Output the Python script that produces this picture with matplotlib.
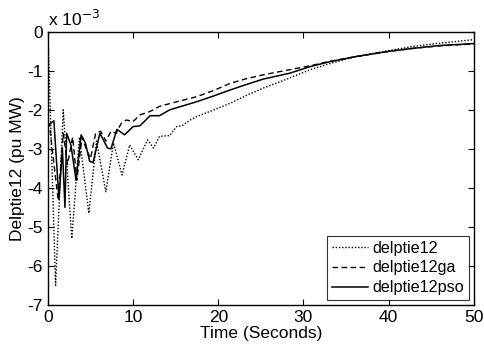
import numpy as np
import matplotlib
matplotlib.use("Agg")
import matplotlib.pyplot as plt

plt.rcParams['font.family'] = ['Liberation Sans', 'DejaVu Sans']
plt.rcParams['axes.unicode_minus'] = False

# values in units of 1e-3 pu MW
t_base = [0, 0.9, 1.8, 2.8, 3.7, 4.8, 5.7, 6.8, 7.7, 8.7, 9.6, 10.6, 11.7, 12.4, 13.1, 14.3,
          15.1, 15.8, 16.7, 17.5, 19.5, 21.4, 23.3, 25.3, 27, 28.4, 30.8, 33, 36, 40, 43, 46, 50]
y_base = [0, -6.5, -2.0, -5.3, -2.7, -4.65, -2.8, -4.1, -2.85, -3.67, -2.9, -3.28, -2.77, -2.98,
          -2.68, -2.66, -2.43, -2.4, -2.26, -2.17, -2.0, -1.83, -1.63, -1.44, -1.3, -1.18,
          -0.97, -0.82, -0.64, -0.48, -0.37, -0.29, -0.2]

t_ga = [0, 0.2, 0.5, 1.2, 1.8, 2.3, 2.9, 3.4, 4.0, 4.5, 5.0, 5.6, 6.2, 6.8, 7.4, 8.0, 8.6, 9.2,
        10, 10.8, 12, 13.1, 15, 17.5, 19.5, 21.4, 23.3, 25.3, 28.4, 30.8, 33, 36, 40, 43, 46, 50]
y_ga = [-2.3, -2.4, -3.0, -4.3, -2.6, -3.4, -2.7, -3.8, -2.7, -3.0, -3.25, -2.6, -2.55, -2.8,
        -2.55, -2.6, -2.35, -2.26, -2.3, -2.13, -2.04, -1.91, -1.8, -1.66, -1.5, -1.32, -1.2,
        -1.1, -0.97, -0.87, -0.76, -0.64, -0.5, -0.42, -0.36, -0.31]

t_pso = [0, 0.3, 0.7, 1.3, 1.7, 2.0, 2.2, 2.7, 3.3, 3.9, 4.4, 4.9, 5.3, 6.1, 7.0, 7.4, 8.1,
         9.0, 10.0, 10.8, 12, 13.1, 14.3, 15.5, 17.5, 19.5, 21.4, 23.3, 25.3, 28.4, 30.8, 33,
         36, 40, 43, 46, 50]
y_pso = [-2.4, -2.35, -2.28, -4.3, -3.0, -4.5, -2.6, -2.9, -3.8, -2.64, -2.85, -3.32, -3.35,
         -2.6, -2.98, -3.0, -2.5, -2.64, -2.43, -2.41, -2.15, -2.15, -2.0, -1.92, -1.79, -1.64,
         -1.49, -1.35, -1.21, -1.06, -0.89, -0.77, -0.64, -0.5, -0.42, -0.35, -0.3]

fig = plt.figure(figsize=(4.84, 3.5), dpi=100)
ax = fig.add_axes([0.099, 0.129, 0.880, 0.780])

ax.plot(t_base, y_base, color='black', lw=1.0, linestyle=(0, (1, 1.3)), label='delptie12')
ax.plot(t_ga, y_ga, color='black', lw=1.0, linestyle=(0, (4, 2.5)), label='delptie12ga')
ax.plot(t_pso, y_pso, color='black', lw=1.1, label='delptie12pso')

ax.set_xlim(0, 50)
ax.set_ylim(-7, 0)
ax.set_xticks(np.arange(0, 51, 10))
ax.set_yticks(np.arange(-7, 1, 1))
ax.tick_params(direction='in', top=True, right=True, labelsize=12.5, length=4, width=0.8)
for s in ax.spines.values():
    s.set_linewidth(1.0)

ax.set_xlabel('Time (Seconds)', fontsize=12.5, labelpad=1)
ax.set_ylabel('Delptie12 (pu MW)', fontsize=12.5, labelpad=2)
ax.text(0.0, 1.01, 'x 10$^{-3}$', transform=ax.transAxes, fontsize=12.5, ha='left', va='bottom')

leg = ax.legend(loc='lower right', fontsize=11.6, frameon=True, fancybox=False, edgecolor='black',
                handlelength=2.2, handletextpad=0.3, borderpad=0.3, labelspacing=0.3,
                borderaxespad=0.3)
leg.get_frame().set_linewidth(0.8)

fig.savefig('out.png', dpi=100)
